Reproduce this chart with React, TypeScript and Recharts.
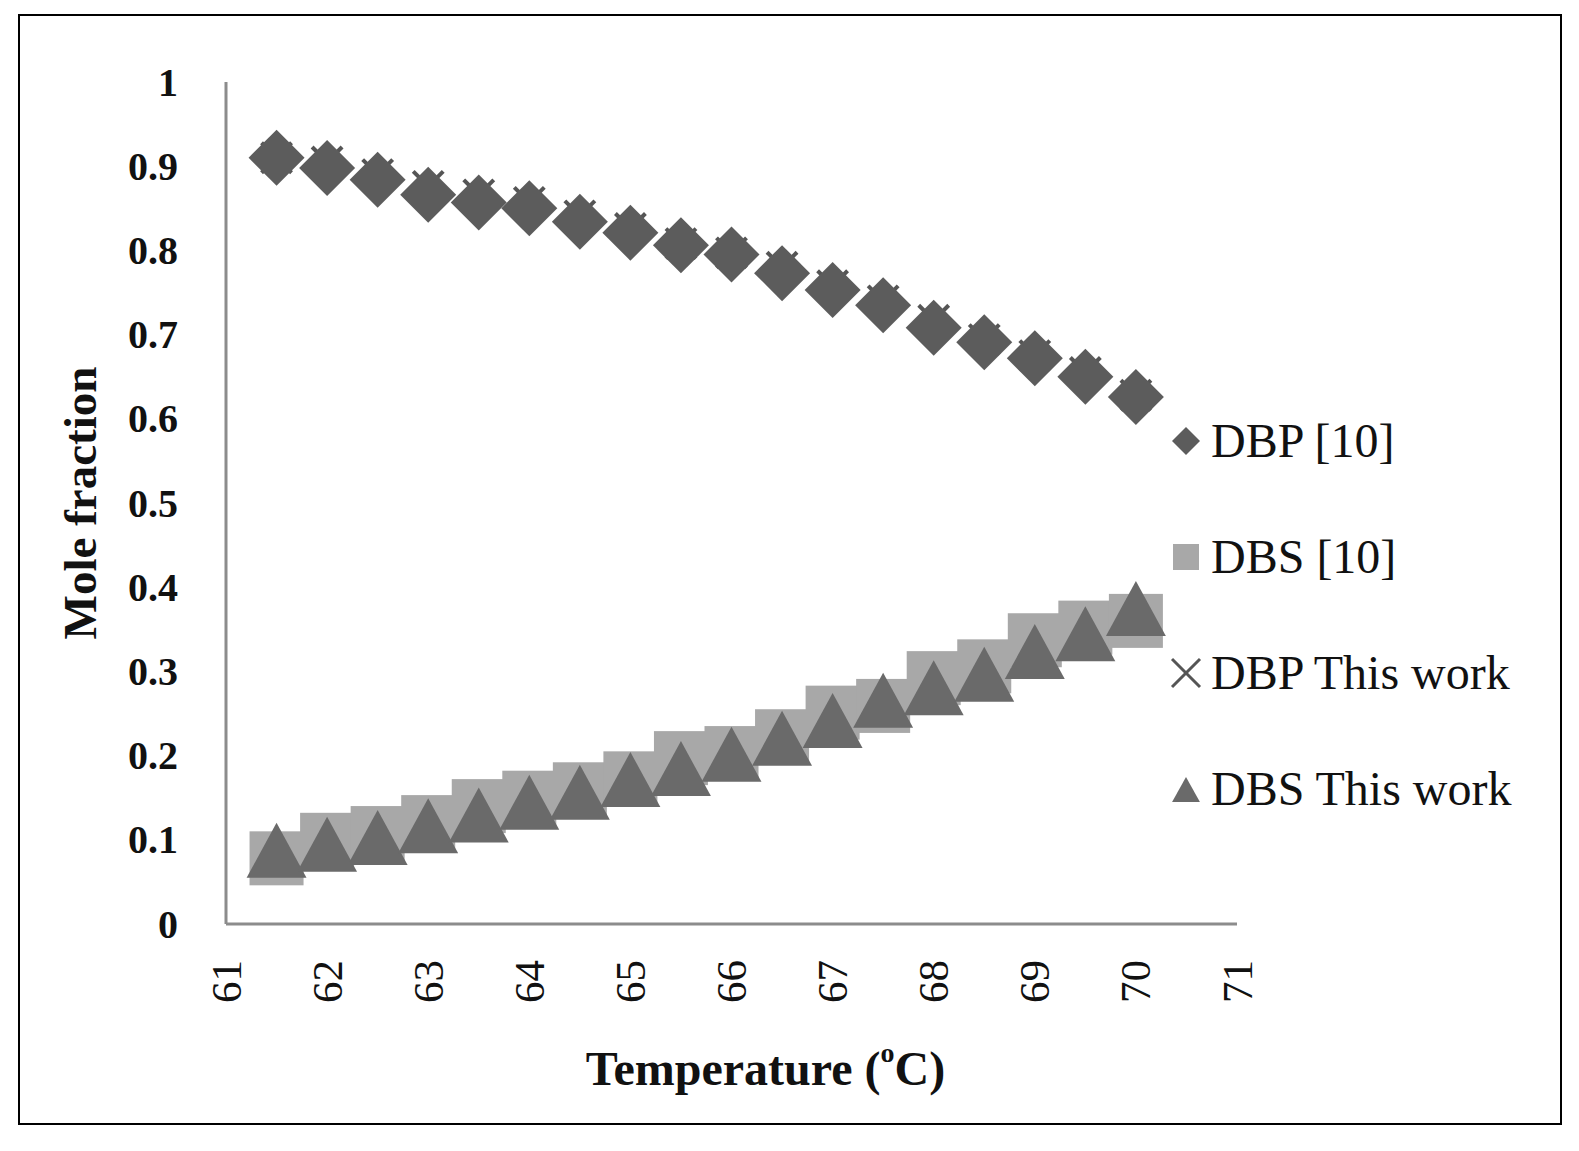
import { ScatterChart, Scatter, XAxis, YAxis, Legend, Label } from "recharts";

// temperatures (oC) shared by all four series
const temps = [61.5, 62, 62.5, 63, 63.5, 64, 64.5, 65, 65.5, 66, 66.5, 67, 67.5, 68, 68.5, 69, 69.5, 70];

const dbpRef = [0.91, 0.898, 0.884, 0.866, 0.857, 0.85, 0.834, 0.821, 0.806, 0.795, 0.773, 0.753, 0.735, 0.708, 0.691, 0.672, 0.65, 0.626];
const dbsRef = [0.078, 0.1, 0.108, 0.121, 0.14, 0.15, 0.16, 0.173, 0.197, 0.203, 0.223, 0.251, 0.259, 0.292, 0.306, 0.337, 0.352, 0.36];
const dbpWork = [0.91, 0.905, 0.89, 0.876, 0.866, 0.857, 0.841, 0.826, 0.808, 0.797, 0.78, 0.758, 0.74, 0.717, 0.694, 0.675, 0.655, 0.628];
const dbsWork = [0.087, 0.094, 0.102, 0.116, 0.129, 0.144, 0.156, 0.171, 0.184, 0.201, 0.22, 0.241, 0.265, 0.28, 0.296, 0.323, 0.344, 0.374];

const xTicks = [61, 62, 63, 64, 65, 66, 67, 68, 69, 70, 71];
const yTicks = [0, 0.1, 0.2, 0.3, 0.4, 0.5, 0.6, 0.7, 0.8, 0.9, 1];

const legendNames = ["DBP [10]", "DBS [10]", "DBP This work", "DBS This work"];

const toPoints = (ys: number[]) => temps.map((t, i) => ({ t, v: ys[i] }));

const serif = "'Liberation Serif', serif";
const C_DIAMOND = "#5c5c5c";
const C_SQUARE = "#a8a8a8";
const C_CROSS = "#555555";
const C_TRI = "#6a6a6a";

function Diamond({ cx, cy, r = 28 }: any) {
  return <polygon points={`${cx},${cy - r} ${cx + r},${cy} ${cx},${cy + r} ${cx - r},${cy}`} fill={C_DIAMOND} />;
}
function Square({ cx, cy, r = 27 }: any) {
  return <rect x={cx - r} y={cy - r} width={r * 2} height={r * 2} fill={C_SQUARE} />;
}
function Cross({ cx, cy, r = 15, w = 4 }: any) {
  return (
    <g stroke={C_CROSS} strokeWidth={w}>
      <line x1={cx - r} y1={cy - r} x2={cx + r} y2={cy + r} />
      <line x1={cx - r} y1={cy + r} x2={cx + r} y2={cy - r} />
    </g>
  );
}
function Triangle({ cx, cy, r = 28 }: any) {
  const hw = r * 1.07;
  return <polygon points={`${cx},${cy - r} ${cx + hw},${cy + r - 1} ${cx - hw},${cy + r - 1}`} fill={C_TRI} />;
}

const legendIcons = [
  <Diamond cx={20} cy={20} r={14} />,
  <Square cx={20} cy={20} r={13} />,
  <Cross cx={20} cy={20} r={14} w={3} />,
  <Triangle cx={20} cy={21} r={13} />,
];

function XTick({ x, y, payload }: any) {
  const ty = y + 36;
  return (
    <text x={x} y={ty} transform={`rotate(-90 ${x} ${ty})`} textAnchor="end" dominantBaseline="central"
      fontFamily={serif} fontSize={43} fill="#111">
      {payload.value}
    </text>
  );
}

function YTick({ x, y, payload }: any) {
  return (
    <text x={x} y={y} textAnchor="end" dominantBaseline="central" fontFamily={serif} fontWeight="bold"
      fontSize={40} fill="#111">
      {payload.value}
    </text>
  );
}

function renderLegend() {
  return (
    <div style={{ fontFamily: serif, fontSize: 48, color: "#111" }}>
      {legendNames.map((name, i) => (
        <div key={name} style={{ height: 116, display: "flex", alignItems: "center" }}>
          <svg width={40} height={40}>{legendIcons[i]}</svg>
          <span style={{ marginLeft: 5, lineHeight: 1, whiteSpace: "nowrap" }}>{name}</span>
        </div>
      ))}
    </div>
  );
}

export default function App() {
  return (
    <div style={{ position: "relative", width: 1563, height: 1135 }}>
      <div style={{ position: "absolute", left: 10, top: 6, width: 1540, height: 1107, border: "2px solid #000" }} />
      <ScatterChart width={1563} height={1135} margin={{ top: 74, right: 334, left: 0, bottom: 19 }}>
        <XAxis type="number" dataKey="t" domain={[61, 71]} ticks={xTicks} height={200}
          axisLine={{ stroke: "#8c8c8c", strokeWidth: 3 }} tickLine={false} tickSize={0} tickMargin={0}
          tick={<XTick />}>
          <Label content={({ viewBox }: any) => (
            <text x={viewBox.x + viewBox.width / 2 + 34} y={viewBox.y + 144} textAnchor="middle"
              dominantBaseline="central" fontFamily={serif} fontWeight="bold" fontSize={48} fill="#111">
              Temperature (<tspan fontSize={28} dy={-16}>o</tspan><tspan dy={16}>C)</tspan>
            </text>
          )} />
        </XAxis>
        <YAxis type="number" dataKey="v" domain={[0, 1]} ticks={yTicks} width={218}
          axisLine={{ stroke: "#8c8c8c", strokeWidth: 3 }} tickLine={false} tickSize={0} tickMargin={48}
          tick={<YTick />}>
          <Label content={({ viewBox }: any) => {
            const cx = 72;
            const cy = viewBox.y + viewBox.height / 2;
            return (
              <text x={cx} y={cy} transform={`rotate(-90 ${cx} ${cy})`} textAnchor="middle"
                dominantBaseline="central" fontFamily={serif} fontWeight="bold" fontSize={47} fill="#111">
                Mole fraction
              </text>
            );
          }} />
        </YAxis>
        <Legend layout="vertical" align="center" verticalAlign="middle" content={renderLegend}
          wrapperStyle={{ left: 1158, top: 375, width: 400 }} />
        <Scatter name="DBP This work" data={toPoints(dbpWork)} shape={(p: any) => <Cross cx={p.cx} cy={p.cy} />} isAnimationActive={false} />
        <Scatter name="DBP [10]" data={toPoints(dbpRef)} shape={(p: any) => <Diamond cx={p.cx} cy={p.cy} />} isAnimationActive={false} />
        <Scatter name="DBS [10]" data={toPoints(dbsRef)} shape={(p: any) => <Square cx={p.cx} cy={p.cy} />} isAnimationActive={false} />
        <Scatter name="DBS This work" data={toPoints(dbsWork)} shape={(p: any) => <Triangle cx={p.cx} cy={p.cy} />} isAnimationActive={false} />
      </ScatterChart>
    </div>
  );
}
